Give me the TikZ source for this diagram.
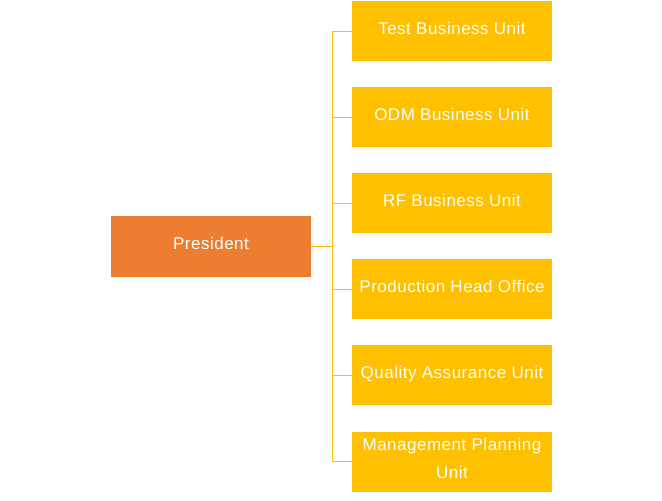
\documentclass[tikz,border=0pt]{standalone}
\usepackage{fontspec}
\setmainfont{Liberation Sans}
\definecolor{presorange}{HTML}{ED7D31}
\definecolor{unityellow}{HTML}{FFC000}
\begin{document}
\begin{tikzpicture}[x=1pt,y=-1pt,
  boxbase/.style={minimum width=200pt,minimum height=60pt,inner sep=0pt,text=white,
    font=\fontsize{17}{28}\selectfont\addfontfeature{LetterSpace=3},align=center,anchor=center},
  oneline/.style={text height=12.5pt,text depth=6pt},
  presbox/.style={boxbase,oneline,fill=presorange,minimum height=61pt},
  unitbox/.style={boxbase,oneline,fill=unityellow},
  twounitbox/.style={boxbase,text depth=6pt,fill=unityellow},
  conn/.style={draw=unityellow,line width=1pt}]
\useasboundingbox (0,0) rectangle (662,501);
\node[presbox] (pres) at (211,246.5) {President};
\node[unitbox] (c1) at (452,31) {Test Business Unit};
\node[unitbox] (c2) at (452,117) {ODM Business Unit};
\node[unitbox] (c3) at (452,203) {RF Business Unit};
\node[unitbox] (c4) at (452,289) {Production Head Office};
\node[unitbox] (c5) at (452,375) {Quality Assurance Unit};
\node[twounitbox] (c6) at (452,461.5) {Management Planning\\Unit};
\coordinate (bus) at (332,246.5);
\draw[conn] (pres.east) -- (bus);
\foreach \c in {c1,c2,c3,c4,c5,c6} {\draw[conn] (bus) |- (\c.west);}
\end{tikzpicture}
\end{document}
